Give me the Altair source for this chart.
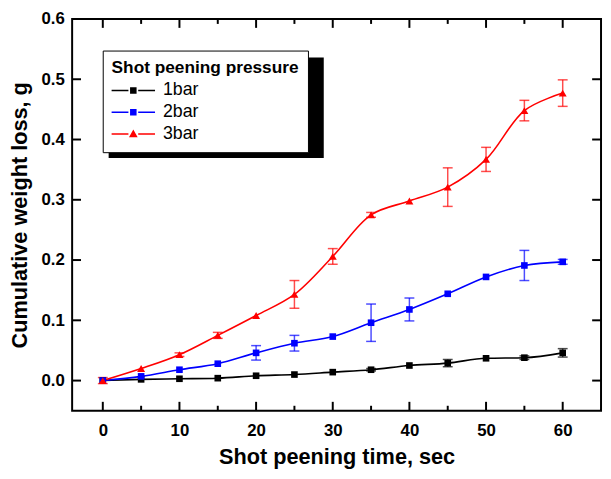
import altair as alt
import pandas as pd

times = [0, 5, 10, 15, 20, 25, 30, 35, 40, 45, 50, 55, 60]
series_names = ["1bar", "2bar", "3bar"]
bar1 = [0.000, 0.002, 0.003, 0.004, 0.008, 0.010, 0.014, 0.018, 0.025, 0.029, 0.037, 0.038, 0.046]
err1 = [0, 0, 0, 0, 0, 0, 0, 0.002, 0, 0.006, 0, 0.003, 0.007]
bar2 = [0.000, 0.007, 0.018, 0.028, 0.046, 0.062, 0.073, 0.096, 0.118, 0.144, 0.172, 0.191, 0.197]
err2 = [0, 0, 0, 0, 0.012, 0.013, 0, 0.031, 0.019, 0, 0, 0.025, 0.004]
bar3 = [0.000, 0.020, 0.043, 0.075, 0.108, 0.143, 0.206, 0.275, 0.298, 0.321, 0.367, 0.448, 0.477]
err3 = [0.005, 0, 0.003, 0.005, 0, 0.023, 0.013, 0.004, 0, 0.032, 0.020, 0.017, 0.022]
colors = ["#000000", "#0000ff", "#ff0000"]
interp = ["monotone", "catmull-rom", "catmull-rom"]
x_major = [0, 10, 20, 30, 40, 50, 60]
x_minor = [5, 15, 25, 35, 45, 55]
y_ticks = [0.0, 0.1, 0.2, 0.3, 0.4, 0.5, 0.6]

# legend symbols: line - marker - line (custom paths)
sq_path = ("M-1,-0.07L0.55,-0.07L0.55,0.07L-1,0.07Z"
           "M1.45,-0.07L3,-0.07L3,0.07L1.45,0.07Z"
           "M0.7,-0.3L1.3,-0.3L1.3,0.3L0.7,0.3Z")
tri_path = ("M-1,-0.07L0.55,-0.07L0.55,0.07L-1,0.07Z"
            "M1.45,-0.07L3,-0.07L3,0.07L1.45,0.07Z"
            "M1,-0.4L1.4,0.3L0.6,0.3Z")
legend_paths = [sq_path, sq_path, tri_path]

# one table for data rows and tick rows
rows = []
for name, vals, errs in zip(series_names, [bar1, bar2, bar3], [err1, err2, err3]):
    for t, v, e in zip(times, vals, errs):
        rows.append({"kind": "data", "time": t, "loss": v, "err": e, "series": name,
                     "lo": v - e, "hi": v + e, "tx": None, "ty": None, "major": None})
for v in x_major:
    rows.append({"kind": "xtick", "time": None, "loss": None, "err": None, "series": None,
                 "lo": None, "hi": None, "tx": v, "ty": None, "major": 1})
for v in x_minor:
    rows.append({"kind": "xtick", "time": None, "loss": None, "err": None, "series": None,
                 "lo": None, "hi": None, "tx": v, "ty": None, "major": 0})
for v in y_ticks:
    rows.append({"kind": "ytick", "time": None, "loss": None, "err": None, "series": None,
                 "lo": None, "hi": None, "tx": None, "ty": v, "major": 1})
df = pd.DataFrame(rows)
legend_df = pd.DataFrame({"series": series_names})

FONT = "Liberation Sans"
W, H = 536, 397
MAJ, MIN = 9, 5
X_DOM = [-4, 65]
Y_DOM = [-0.05, 0.6]
xscale = alt.Scale(domain=X_DOM, nice=False, zero=False)
yscale = alt.Scale(domain=Y_DOM, nice=False, zero=False)
cscale = alt.Scale(domain=series_names, range=colors)

ypx = (Y_DOM[1] - Y_DOM[0]) / H
xpx = (X_DOM[1] - X_DOM[0]) / W

x_bottom = alt.Axis(orient="bottom", values=x_major, domain=False, grid=False,
                    ticks=False, labelPadding=12,
                    title="Shot peening time, sec", titlePadding=9)
y_left = alt.Axis(orient="left", values=y_ticks, domain=False, grid=False,
                  ticks=False, format=".1f", labelPadding=8,
                  title="Cumulative weight loss, g", titlePadding=10)

base = alt.Chart(df)
data_only = base.transform_filter("datum.kind === 'data'")

leg = alt.Legend(
    title="Shot peening pressure", orient="none", legendX=31, legendY=32,
    strokeColor="black", fillColor="white", padding=9,
    titleFont=FONT, titleFontSize=17.5, titleFontWeight="bold", titleColor="black",
    titleLimit=400, titlePadding=3, labelFont=FONT, labelFontSize=18,
    labelColor="black", labelLimit=200,
    symbolSize=484, symbolStrokeWidth=0, symbolOpacity=1, labelOffset=30,
    rowPadding=2,
)

legend_layer = alt.Chart(legend_df).mark_point(filled=True, opacity=0).encode(
    color=alt.Color("series:N", scale=cscale, legend=leg),
    shape=alt.Shape("series:N", scale=alt.Scale(domain=series_names, range=legend_paths), legend=leg),
)

frame = alt.Chart(legend_df).mark_rect(fill=None, stroke="black", strokeWidth=2).encode(
    x=alt.value(0), x2=alt.value(W), y=alt.value(0), y2=alt.value(H)
).transform_filter("datum.series === '1bar'")

shadow = alt.Chart(legend_df).mark_rect(color="black").encode(
    x=alt.value(37), x2=alt.value(255), y=alt.value(39), y2=alt.value(141)
).transform_filter("datum.series === '1bar'")

# inward tick marks, every end point through the scales
len_y = f"(datum.major ? {MAJ} : {MIN}) * {ypx}"
xticks_src = base.transform_filter("datum.kind === 'xtick'")
yticks_src = base.transform_filter("datum.kind === 'ytick'")
xt = alt.X("tx:Q", scale=xscale, axis=None)
yt = alt.Y("ty:Q", scale=yscale, axis=None)
bottom_ticks = xticks_src.transform_calculate(
    y0=f"{Y_DOM[0]}", y1=f"{Y_DOM[0]} + {len_y}"
).mark_rule(color="black", strokeWidth=2).encode(
    x=xt, y=alt.Y("y0:Q", scale=yscale, axis=None), y2="y1:Q"
)
top_ticks = xticks_src.transform_calculate(
    y0=f"{Y_DOM[1]}", y1=f"{Y_DOM[1]} - {len_y}"
).mark_rule(color="black", strokeWidth=2).encode(
    x=xt, y=alt.Y("y0:Q", scale=yscale, axis=None), y2="y1:Q"
)
left_ticks = yticks_src.transform_calculate(
    x0=f"{X_DOM[0]}", x1=f"{X_DOM[0]} + {MAJ * xpx}"
).mark_rule(color="black", strokeWidth=2).encode(
    y=yt, x=alt.X("x0:Q", scale=xscale, axis=None), x2="x1:Q"
)
right_ticks = yticks_src.transform_calculate(
    x0=f"{X_DOM[1]}", x1=f"{X_DOM[1]} - {MAJ * xpx}"
).mark_rule(color="black", strokeWidth=2).encode(
    y=yt, x=alt.X("x0:Q", scale=xscale, axis=None), x2="x1:Q"
)

errbars = data_only.transform_filter("datum.err > 0").mark_errorbar(
    thickness=1.5, opacity=0.7, ticks={"size": 10, "thickness": 1.5}
).encode(
    x=alt.X("time:Q", scale=xscale, axis=None),
    y=alt.Y("lo:Q", scale=yscale, axis=None, title=None),
    y2="hi:Q",
    color=alt.Color("series:N", scale=cscale, legend=None),
)

line_layers = []
for i, (name, ip) in enumerate(zip(series_names, interp)):
    line_layers.append(
        data_only.transform_filter(alt.datum.series == name).mark_line(
            interpolate=ip, strokeWidth=1.6
        ).encode(
            x=alt.X("time:Q", scale=xscale, axis=x_bottom if i == 0 else None),
            y=alt.Y("loss:Q", scale=yscale, axis=y_left if i == 0 else None),
            color=alt.Color("series:N", scale=cscale, legend=None),
        )
    )

squares = data_only.transform_filter("datum.series !== '3bar'").mark_point(
    shape="square", filled=True, size=45, opacity=1
).encode(
    x=alt.X("time:Q", scale=xscale, axis=None),
    y=alt.Y("loss:Q", scale=yscale, axis=None),
    color=alt.Color("series:N", scale=cscale, legend=None),
)

triangles = data_only.transform_filter("datum.series === '3bar'").mark_point(
    shape="triangle-up", filled=True, size=65, opacity=1
).encode(
    x=alt.X("time:Q", scale=xscale, axis=None),
    y=alt.Y("loss:Q", scale=yscale, axis=None),
    color=alt.Color("series:N", scale=cscale, legend=None),
)

chart = alt.layer(legend_layer, shadow, errbars, *line_layers, squares, triangles,
                  frame, bottom_ticks, top_ticks, left_ticks, right_ticks).resolve_axis(
    x="independent", y="independent"
).properties(
    width=W, height=H,
    autosize=alt.AutoSizeParams(type="none"),
    padding={"left": 65, "top": 8, "right": 2, "bottom": 60},
).configure_view(
    stroke=None
).configure_axis(
    labelFont=FONT, labelFontSize=17, labelFontWeight="bold", labelColor="black",
    titleFont=FONT, titleFontSize=22, titleFontWeight="bold", titleColor="black",
)

chart.save("out.html", embed_options={"renderer": "svg", "actions": False})
